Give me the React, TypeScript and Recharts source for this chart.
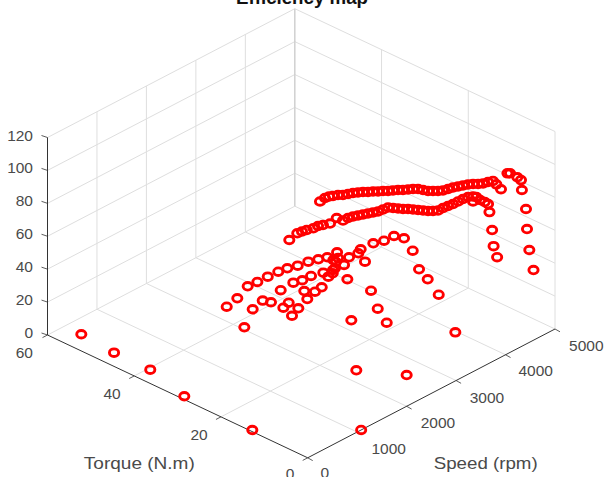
import React from "react";
import { ScatterChart, Scatter, XAxis, YAxis, ReferenceLine, ReferenceDot } from "recharts";

// ---- values: speed (rpm), torque (N.m), efficiency ----
const speedUpper = [2489,2608,2678,2726,2794,2842,2911,2979,3037,3096,3144,3203,3251,3309,3357,3415,3473,3521,3580,3638,3686,3713,3741,3789,3837,3895,3974,4052,4121,4189,4257,4317,4365,4423,4501,4570,4533,4478];
const torqueUpper = [25.55,25.76,25.62,25.26,24.88,24.28,23.9,23.53,23.04,22.56,21.95,21.46,20.85,20.37,19.76,19.28,18.78,18.18,17.69,17.2,16.59,15.76,14.92,14.32,13.71,13.23,12.96,12.71,12.33,11.97,11.59,11.1,10.49,10.01,9.75,9.4,8.2,6.5];
const effUpper = 85;

const speedMiddle = [1577,1790,1872,1948,2046,2138,2206,2304,2481,2490,2589,2668,2736,2804,2873,2942,3010,3099,3188,3226,3264,3301,3349,3387,3425,3463,3501,3549,3607,3706,3794,3883,3982,4081,4170,4229,4250,4127,4225,4229,4220];
const torqueMiddle = [22.23,22.82,22.67,22.44,22.04,22,21.64,21.13,21.6,20.26,20.23,19.98,19.6,19.23,18.86,18.49,18.11,17.98,17.83,17.11,16.39,15.67,15.06,14.35,13.62,12.9,12.18,11.58,11.08,11.06,10.92,10.78,10.75,10.74,10.59,10.11,9.59,8.94,8.44,7.41,6.54];
const effMiddle = 80;

const speedMid50 = [623,896,1240,1421,1629,1831,1988,2141,2324,2469,2596,2792,2805,2975,3080,3323,3479,3671,3720,3551,3233,3113,2905];
const torqueMid50 = [25.78,26.45,27.98,27.82,27.79,27.67,27.37,26.72,26.37,25.71,25.09,25.07,22.46,22.27,22.91,22.77,22.08,21.97,20.22,16.28,11.2,7.83,2.92];
const effMid50 = 50;

const speedMid40 = [1156,1428,1474,1813,2088,2223,2395,2580,2547,2728,2782,2935,2936,3205,2677,2920,2658,3021];
const torqueMid40 = [25.87,26.66,25.28,26.9,27.13,26.6,26.55,25.82,24.29,25.28,25.44,27.56,25.11,23.34,21.39,26.78,24.54,27.46];
const effMid40 = 40;

const speedMid30 = [1817,1970,1949,1737,2358,2447,2602,2224,1043,3006,2704,2214,2505];
const torqueMid30 = [26.34,26.85,24.39,23.43,27.68,26.23,26.44,25.46,26.51,19.68,14.69,15.19,10.35];
const effMid30 = 30;

const speedStall = [340,280,282,67,34,1081];
const torqueStall = [56.08,47.85,39.52,29.22,13.16,0];
const effStall = 0;

const speedLow = [1579,2134,3471];
const torqueLow = [6.8,1.52,5.55];
const effLow = [20,15,15];

const speedColA = [4696,4722,4711,4689,4664,4651,4655,4686,4653];
const torqueColA = [7.5,7.2,5.4,4.3,3.8,2.71,2.52,2.34,1.0];
const effColA = [90,90,90,90,85,75,63,50,40];

const speedColB = [4069,4132,4153,4163];
const torqueColB = [4.5,4.6,4.5,3.8];
const effColB = [80,68,58,52];

const effTicks = [0, 20, 40, 60, 80, 100, 120];
const torqueTicks = [0, 20, 40, 60];
const speedTicks = [0, 1000, 2000, 3000, 4000, 5000];

// ---- view of the 3-D box on the chart plane ----
const W = 606;
const H = 477;
const project = (speed: number, torque: number, eff: number) => ({
  x: 307.7 + (247.3 * speed) / 5000 - (260.2 * torque) / 60,
  y: 457.8 - (128.8 * speed) / 5000 - (122.8 * torque) / 60 - (197.5 * eff) / 120,
});

const points = (speeds: number[], torques: number[], effs: number | number[]) =>
  speeds.map((s, i) => project(s, torques[i], Array.isArray(effs) ? effs[i] : effs));

const groups = [
  points(speedStall, torqueStall, effStall),
  points(speedLow, torqueLow, effLow),
  points(speedMid30, torqueMid30, effMid30),
  points(speedMid40, torqueMid40, effMid40),
  points(speedMid50, torqueMid50, effMid50),
  points(speedMiddle, torqueMiddle, effMiddle),
  points(speedUpper, torqueUpper, effUpper),
  points(speedColB, torqueColB, effColB),
  points(speedColA, torqueColA, effColA),
];

type P = { x: number; y: number };
type Seg = { a: P; b: P; stroke: string; width: number };
const GRID = "#dedede";
const AXIS = "#333333";
const segs: Seg[] = [];
const add = (a: P, b: P, stroke = GRID, width = 1) => segs.push({ a, b, stroke, width });

effTicks.forEach((e) => {
  add(project(0, 60, e), project(5000, 60, e));
  add(project(5000, 60, e), project(5000, 0, e));
});
speedTicks.forEach((s) => {
  if (s > 0) add(project(s, 60, 0), project(s, 60, 120), s === 5000 ? "#d0d0d0" : GRID, s === 5000 ? 1.5 : 1);
  if (s > 0 && s < 5000) add(project(s, 0, 0), project(s, 60, 0));
});
torqueTicks.forEach((t) => {
  if (t < 60) add(project(5000, t, 0), project(5000, t, 120));
  if (t > 0 && t < 60) add(project(0, t, 0), project(5000, t, 0));
});
// axis lines and tick marks
add(project(0, 60, 0), project(0, 60, 120), AXIS, 1);
add(project(0, 0, 0), project(0, 60, 0), AXIS, 1);
add(project(0, 0, 0), project(5000, 0, 0), AXIS, 1);
const tick = (p: P, dx: number, dy: number) => add(p, { x: p.x + dx, y: p.y + dy }, AXIS, 0.8);
effTicks.forEach((e) => tick(project(0, 60, e), -6, -2));
torqueTicks.forEach((t) => tick(project(0, t, 0), -5, 2.6));
speedTicks.forEach((s) => tick(project(s, 0, 0), 5, 2.8));

type L = { text: string; x: number; y: number; anchor?: string; size?: number; length?: number };
const labels: L[] = [
  ...effTicks.map((e) => ({ text: String(e), x: 33, y: project(0, 60, e).y - 2.5, anchor: "end" })),
  ...torqueTicks.map((t, i) => ({ text: String(t), x: [290, 199, 112, 24.3][i], y: [473.3, 434.3, 393.3, 352.7][i] })),
  ...speedTicks.map((s, i) => ({ text: String(s), x: [324.7, 388.7, 438, 487, 535.7, 586.3][i], y: [472.7, 448.3, 422.7, 397.3, 370.3, 345][i] })),
  { text: "Torque (N.m)", x: 139.3, y: 463.3, size: 16.5, length: 111 },
  { text: "Speed (rpm)", x: 485.7, y: 462.7, size: 16.5, length: 104 },
];

const Ring = (props: any) => (
  <ellipse cx={props.cx} cy={props.cy} rx={4.6} ry={3.8} fill="none" stroke="#ff0000" strokeWidth={2.9} />
);

export default function App() {
  return (
    <div style={{ position: "absolute", left: 0, top: 0, width: W, height: H, background: "#fff" }}>
      <ScatterChart width={W} height={H} margin={{ top: 0, right: 0, bottom: 0, left: 0 }}>
        <XAxis type="number" dataKey="x" domain={[0, W]} hide allowDataOverflow />
        <YAxis type="number" dataKey="y" domain={[0, H]} reversed hide allowDataOverflow />
        {segs.map((s, i) => (
          <ReferenceLine
            key={i}
            segment={[s.a, s.b]}
            stroke={s.stroke}
            strokeWidth={s.width}
            ifOverflow="visible"
          />
        ))}
        {groups.map((g, i) => (
          <Scatter key={i} data={g} shape={Ring} isAnimationActive={false} />
        ))}
        {labels.map((l, i) => (
          <ReferenceDot
            key={i}
            x={l.x}
            y={l.y}
            r={0}
            ifOverflow="visible"
            shape={(p: any) => (
              <text
                x={p.cx}
                y={p.cy}
                textAnchor={l.anchor ?? "middle"}
                dominantBaseline="central"
                fontFamily="Liberation Sans, Arial, sans-serif"
                fontSize={l.size ?? 15.5}
                textLength={l.length}
                lengthAdjust={l.length ? "spacingAndGlyphs" : undefined}
                fill="#4a4a4a"
              >
                {l.text}
              </text>
            )}
          />
        ))}
        <ReferenceDot
          x={302}
          y={3.5}
          r={0}
          ifOverflow="visible"
          shape={(p: any) => (
            <text
              x={p.cx}
              y={p.cy}
              textAnchor="middle"
              fontFamily="Liberation Sans, Arial, sans-serif"
              fontSize={18}
              fontWeight="bold"
              fill="#111111"
              textLength={132}
              lengthAdjust="spacingAndGlyphs"
            >
              Efficiency map
            </text>
          )}
        />
      </ScatterChart>
    </div>
  );
}
